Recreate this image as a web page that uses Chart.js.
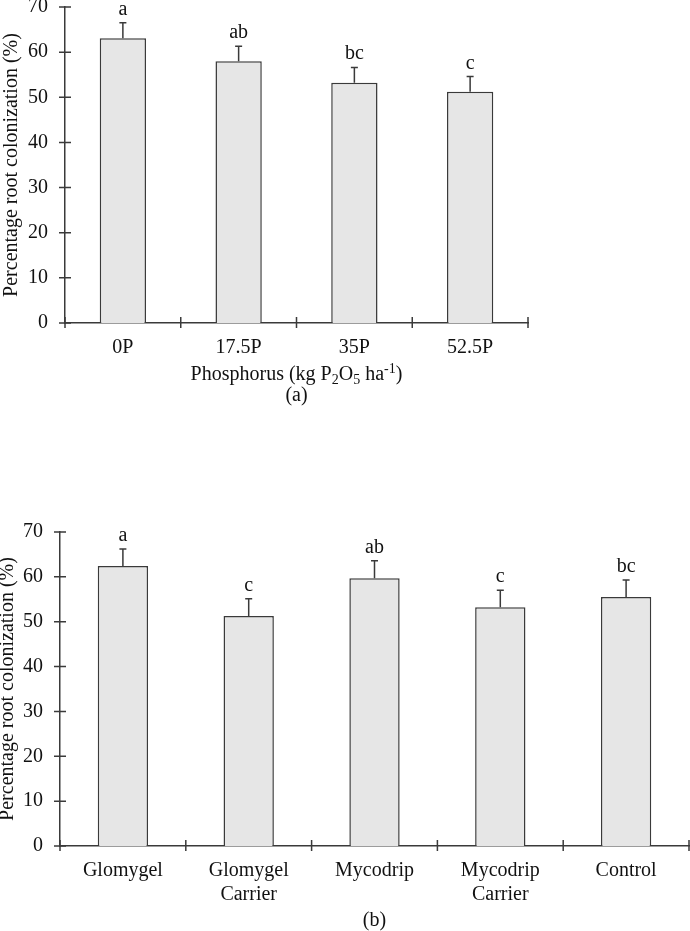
<!DOCTYPE html>
<html>
<head>
<meta charset="utf-8">
<script src="https://cdn.jsdelivr.net/npm/chart.js@4/dist/chart.umd.min.js"></script>
<style>
    html, body { margin: 0; padding: 0; background: #fff; }
    #wrap { position: relative; width: 690px; height: 931px; }
    canvas { position: absolute; left: 0; }
    #chart-a { top: 0; }
    #chart-b { top: 410px; }
</style>
</head>
<body>
<div id="wrap">
    <canvas id="chart-a" width="690" height="410"></canvas>
    <canvas id="chart-b" width="690" height="521"></canvas>
</div>
<script>
// (a) phosphorus levels
const phosphorusLabels = ['0P', '17.5P', '35P', '52.5P'];
const phosphorusMeans = [63.1, 58.0, 53.2, 51.2];
const phosphorusErrors = [3.4, 3.3, 3.4, 3.4];
const phosphorusLetters = ['a', 'ab', 'bc', 'c'];

// (b) inoculant treatments
const inoculantLabels = ['Glomygel', ['Glomygel', 'Carrier'], 'Mycodrip', ['Mycodrip', 'Carrier'], 'Control'];
const inoculantMeans = [62.4, 51.3, 59.7, 53.2, 55.5];
const inoculantErrors = [3.8, 3.8, 3.9, 3.8, 3.8];
const inoculantLetters = ['a', 'c', 'ab', 'c', 'bc'];

const yMin = 0;
const yMax = 70;
const yStep = 10;

const SERIF = "'Liberation Serif', 'Times New Roman', serif";
const FONT_SIZE = 20;
const INK = '#111';
const LINE = '#3a3a3a';

Chart.defaults.font.family = SERIF;
Chart.defaults.font.size = FONT_SIZE;
Chart.defaults.color = INK;

// error bars + significance letters above each bar
const errorBarPlugin = {
    id: 'errorBars',
    afterDatasetsDraw(chart, args, opts) {
        const { ctx } = chart;
        const y = chart.scales.y;
        const meta = chart.getDatasetMeta(0);
        const means = chart.data.datasets[0].data;
        ctx.save();
        ctx.strokeStyle = LINE;
        ctx.lineWidth = 1.5;
        ctx.fillStyle = INK;
        ctx.font = FONT_SIZE + 'px ' + SERIF;
        ctx.textAlign = 'center';
        ctx.textBaseline = 'alphabetic';
        meta.data.forEach((bar, i) => {
            const top = y.getPixelForValue(means[i] + opts.errors[i]);
            ctx.beginPath();
            ctx.moveTo(bar.x, bar.y);
            ctx.lineTo(bar.x, top);
            ctx.moveTo(bar.x - 3.5, top);
            ctx.lineTo(bar.x + 3.5, top);
            ctx.stroke();
            ctx.fillText(opts.letters[i], bar.x, top - 8);
        });
        ctx.restore();
    },
};

// tick marks that cross the axis lines
const crossTicksPlugin = {
    id: 'crossTicks',
    afterDraw(chart) {
        const { ctx, chartArea } = chart;
        const x = chart.scales.x;
        const y = chart.scales.y;
        ctx.save();
        ctx.strokeStyle = LINE;
        ctx.lineWidth = 1.5;
        ctx.beginPath();
        y.ticks.forEach(t => {
            const py = y.getPixelForValue(t.value);
            ctx.moveTo(chartArea.left - 6, py);
            ctx.lineTo(chartArea.left + 6, py);
        });
        const n = chart.data.labels.length;
        const step = x.getPixelForValue(1) - x.getPixelForValue(0);
        for (let k = 0; k <= n; k++) {
            const px = x.getPixelForValue(0) - step / 2 + k * step;
            ctx.moveTo(px, chartArea.bottom - 6);
            ctx.lineTo(px, chartArea.bottom + 5);
        }
        ctx.stroke();
        ctx.restore();
    },
};

// captions under the axis, with sub/superscripts
const captionPlugin = {
    id: 'captions',
    afterDraw(chart, args, opts) {
        const { ctx, chartArea } = chart;
        const cx = (chartArea.left + chartArea.right) / 2;
        ctx.save();
        ctx.fillStyle = INK;
        ctx.textBaseline = 'middle';
        ctx.textAlign = 'left';
        (opts.lines || []).forEach(line => {
            const parts = line.parts.map(p => {
                const size = p.sub || p.sup ? 14 : FONT_SIZE;
                ctx.font = size + 'px ' + SERIF;
                return { ...p, size, w: ctx.measureText(p.t).width };
            });
            const total = parts.reduce((s, p) => s + p.w, 0);
            let px = cx - total / 2;
            parts.forEach(p => {
                ctx.font = p.size + 'px ' + SERIF;
                const dy = p.sub ? 5 : (p.sup ? -6 : 0);
                ctx.fillText(p.t, px, line.y + dy);
                px += p.w;
            });
        });
        ctx.restore();
    },
};

function buildChart(canvasId, labels, means, errors, letters, cfg) {
    return new Chart(document.getElementById(canvasId), {
        type: 'bar',
        data: {
            labels: labels,
            datasets: [{
                data: means,
                backgroundColor: '#e6e6e6',
                borderColor: LINE,
                borderWidth: 1.5,
                categoryPercentage: 1.0,
                barPercentage: 0.4,
            }],
        },
        options: {
            responsive: false,
            animation: false,
            devicePixelRatio: 1,
            layout: {
                padding: { left: 0, top: cfg.top, right: cfg.right, bottom: 0 },
            },
            plugins: {
                legend: { display: false },
                tooltip: { enabled: false },
                errorBars: { errors: errors, letters: letters },
                captions: { lines: cfg.captions },
            },
            scales: {
                x: {
                    grid: { display: false, drawTicks: false },
                    border: { display: true, color: LINE, width: 1.5 },
                    ticks: { color: INK, padding: 13, maxRotation: 0, autoSkip: false },
                    afterFit(scale) {
                        scale.height = cfg.xHeight;
                        scale.paddingLeft = 0;
                        scale.paddingRight = 0;
                    },
                },
                y: {
                    min: yMin,
                    max: yMax,
                    grid: { display: false, drawTicks: false },
                    border: { display: true, color: LINE, width: 1.5 },
                    ticks: { stepSize: yStep, color: INK, padding: 17 },
                    title: {
                        display: true,
                        text: 'Percentage root colonization (%)',
                        color: INK,
                        font: { size: FONT_SIZE },
                        padding: { top: cfg.titlePad, bottom: 0 },
                    },
                    afterFit(scale) {
                        scale.width = cfg.left;
                        scale.paddingTop = 0;
                        scale.paddingBottom = 0;
                    },
                },
            },
        },
        plugins: [errorBarPlugin, crossTicksPlugin, captionPlugin],
    });
}

buildChart('chart-a', phosphorusLabels, phosphorusMeans, phosphorusErrors, phosphorusLetters, {
    left: 65, top: 7, right: 162, xHeight: 87, titlePad: 0,
    captions: [
        { y: 375, parts: [
            { t: 'Phosphorus (kg P' }, { t: '2', sub: true }, { t: 'O' }, { t: '5', sub: true },
            { t: ' ha' }, { t: '-1', sup: true }, { t: ')' },
        ] },
        { y: 396, parts: [{ t: '(a)' }] },
    ],
});

buildChart('chart-b', inoculantLabels, inoculantMeans, inoculantErrors, inoculantLetters, {
    left: 60, top: 122, right: 1, xHeight: 85, titlePad: -4,
    captions: [
        { y: 511, parts: [{ t: '(b)' }] },
    ],
});
</script>
</body>
</html>
